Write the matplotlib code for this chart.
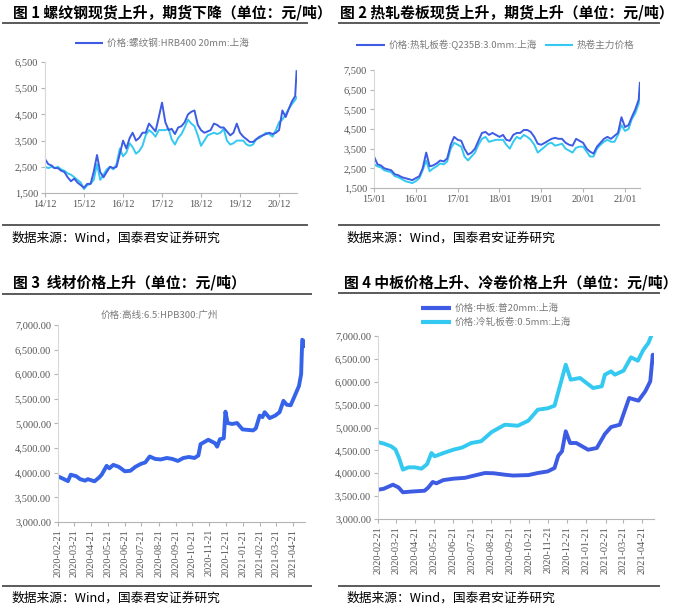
import numpy as np
import pandas as pd
import matplotlib
matplotlib.use('Agg')
import matplotlib.pyplot as plt
import matplotlib.dates as mdates
from matplotlib.lines import Line2D
from matplotlib.ticker import FuncFormatter

# ---------------------------------------------------------------------------
# 数据
# ---------------------------------------------------------------------------
# 图1 螺纹钢：月度，2014-12 ~ 2021-05，外加最后一个点
rebar_spot = [2800,
              2600, 2550, 2450, 2450, 2350, 2300, 2100, 1950, 2050, 1900, 1800, 1700,
              1850, 1850, 2300, 2950, 2300, 2100, 2300, 2500, 2450, 2500, 3000, 3500,
              3200, 3600, 3800, 3500, 3600, 3800, 3800, 4150, 4000, 3850, 4400, 4950,
              4200, 3900, 3950, 3750, 4000, 4050, 4200, 4500, 4600, 4650, 4100, 3900,
              3800, 3850, 3900, 4150, 4100, 4000, 4000, 3850, 3700, 3800, 4150, 3800,
              3650, 3550, 3450, 3450, 3550, 3650, 3700, 3750, 3800, 3750, 3800, 3900,
              4650, 4400, 4700, 5000, 5200, 6150]
rebar_fut = [2500,
             2450, 2500, 2450, 2500, 2400, 2350, 2250, 2200, 2100, 2000, 1900, 1650,
             1800, 1850, 2000, 2600, 2000, 2200, 2400, 2500, 2400, 2600, 3200, 2900,
             3050, 3400, 3250, 3000, 3100, 3300, 3700, 3900, 3800, 3650, 3900, 3900,
             3900, 3950, 3550, 3350, 3600, 3750, 4000, 4300, 4150, 4050, 3700, 3300,
             3500, 3700, 3750, 3800, 3750, 3800, 3950, 3500, 3350, 3400, 3500, 3500,
             3500, 3350, 3300, 3350, 3550, 3600, 3700, 3800, 3750, 3650, 3900, 4200,
             4300, 4500, 4700, 4900, 5050, 5150]
rebar_dates = list(pd.date_range('2014-12-01', '2021-05-01', freq='MS')) + [pd.Timestamp('2021-05-14')]
rebar_ticks = ['2014-12-01', '2015-12-01', '2016-12-01', '2017-12-01',
               '2018-12-01', '2019-12-01', '2020-12-01']
rebar_ticklabels = ['14/12', '15/12', '16/12', '17/12', '18/12', '19/12', '20/12']

# 图2 热轧卷板：月度，2015-01 ~ 2021-05，外加最后一个点
hrc_spot = [3100, 2700, 2650, 2500, 2450, 2400, 2200, 2150, 2050, 2000, 1950, 1900,
            2000, 2100, 2500, 3300, 2600, 2650, 2750, 2900, 2850, 3000, 3700, 4100,
            3950, 3900, 3500, 3200, 3300, 3500, 3900, 4300, 4350, 4200, 4300, 4200,
            4100, 4200, 3950, 3900, 4200, 4300, 4300, 4450, 4450, 4350, 4100, 3750,
            3700, 3800, 3900, 4000, 4050, 4000, 4000, 3800, 3700, 3650, 4000, 3900,
            3800, 3500, 3350, 3250, 3600, 3800, 4000, 4100, 4000, 4150, 4300, 5100,
            4600, 4700, 5100, 5500, 6000, 6850]
hrc_fut = [2700, 2600, 2550, 2400, 2350, 2300, 2100, 2050, 1950, 1850, 1800, 1750,
           1850, 2000, 2400, 2900, 2350, 2500, 2600, 2750, 2700, 2850, 3500, 3800,
           3700, 3600, 3100, 2900, 3100, 3300, 3700, 4000, 4100, 3850, 3900, 3950,
           3950, 3950, 3700, 3500, 3850, 4100, 4000, 4200, 4100, 3950, 3700, 3300,
           3450, 3600, 3750, 3800, 3650, 3700, 3750, 3500, 3400, 3300, 3550, 3600,
           3600, 3350, 3100, 3100, 3500, 3700, 3850, 3950, 3850, 3850, 4200, 4700,
           4400, 4500, 5000, 5300, 5800, 6600]
hrc_dates = list(pd.date_range('2015-01-01', '2021-05-01', freq='MS')) + [pd.Timestamp('2021-05-11')]
hrc_ticks = ['2015-01-01', '2016-01-01', '2017-01-01', '2018-01-01',
             '2019-01-01', '2020-01-01', '2021-01-01']
hrc_ticklabels = ['15/01', '16/01', '17/01', '18/01', '19/01', '20/01', '21/01']

# 图3 线材
wire_dates = ['2020-02-21', '2020-03-01', '2020-03-10', '2020-03-15', '2020-03-25',
              '2020-04-01', '2020-04-10', '2020-04-15', '2020-04-27', '2020-05-05',
              '2020-05-10', '2020-05-19', '2020-05-24', '2020-05-31', '2020-06-10',
              '2020-06-21', '2020-07-01', '2020-07-10', '2020-07-20', '2020-07-28',
              '2020-08-05', '2020-08-15', '2020-08-25', '2020-09-05', '2020-09-15',
              '2020-09-25', '2020-10-05', '2020-10-15', '2020-10-25', '2020-11-01',
              '2020-11-05', '2020-11-19', '2020-12-01', '2020-12-05', '2020-12-10',
              '2020-12-17', '2020-12-20', '2020-12-24', '2021-01-01', '2021-01-10',
              '2021-01-20', '2021-02-08', '2021-02-13', '2021-02-20', '2021-02-25',
              '2021-03-01', '2021-03-10', '2021-03-20', '2021-03-28', '2021-04-04',
              '2021-04-10', '2021-04-17', '2021-04-24', '2021-05-02', '2021-05-06',
              '2021-05-08', '2021-05-10', '2021-05-11']
wire_price = [3925, 3880, 3830, 3960, 3930,
              3870, 3840, 3870, 3826, 3900,
              3960, 4140, 4090, 4160, 4120,
              4030, 4040, 4120, 4180, 4210,
              4330, 4280, 4270, 4300, 4280,
              4240, 4300, 4320, 4300, 4350,
              4580, 4670, 4600, 4530, 4680,
              4700, 5240, 5010, 4990, 5010,
              4880, 4860, 4900, 5160, 5130,
              5230, 5110, 5160, 5230, 5460,
              5380, 5370, 5550, 5760, 6000,
              6700, 6680, 6570]

# 图4 中板 / 冷轧
plate_dates = ['2020-02-21', '2020-03-01', '2020-03-16', '2020-03-25', '2020-04-01',
               '2020-04-15', '2020-05-06', '2020-05-12', '2020-05-19', '2020-05-25',
               '2020-06-05', '2020-06-21', '2020-07-10', '2020-07-25', '2020-08-11',
               '2020-08-25', '2020-09-12', '2020-09-25', '2020-10-20', '2020-11-04',
               '2020-11-20', '2020-12-01', '2020-12-07', '2020-12-13', '2020-12-19',
               '2020-12-26', '2021-01-05', '2021-01-24', '2021-02-07', '2021-02-20',
               '2021-03-02', '2021-03-16', '2021-03-31', '2021-04-15', '2021-04-26',
               '2021-05-04', '2021-05-08', '2021-05-09']
plate_price = [3640, 3660, 3750, 3690, 3584, 3600, 3618, 3690, 3809, 3780,
               3850, 3881, 3900, 3950, 4005, 4000, 3968, 3950, 3960, 4005,
               4040, 4115, 4383, 4480, 4917, 4661, 4661, 4514, 4552, 4858,
               5011, 5061, 5645, 5586, 5792, 6010, 6591, 6447]
cold_dates = ['2020-02-21', '2020-03-01', '2020-03-13', '2020-03-20', '2020-03-26',
              '2020-04-01', '2020-04-10', '2020-04-20', '2020-05-01', '2020-05-10',
              '2020-05-17', '2020-05-22', '2020-06-05', '2020-06-21', '2020-07-05',
              '2020-07-20', '2020-08-05', '2020-08-22', '2020-09-12', '2020-10-03',
              '2020-10-20', '2020-11-04', '2020-11-20', '2020-12-01', '2020-12-08',
              '2020-12-19', '2020-12-27', '2021-01-11', '2021-02-01', '2021-02-15',
              '2021-02-20', '2021-03-02', '2021-03-08', '2021-03-22', '2021-04-03',
              '2021-04-14', '2021-04-23', '2021-05-01', '2021-05-05']
cold_price = [4680, 4650, 4590, 4520, 4330, 4080, 4130, 4130, 4100, 4200,
              4443, 4370, 4440, 4514, 4560, 4661, 4700, 4902, 5061, 5039,
              5150, 5389, 5420, 5476, 5826, 6373, 6045, 6082, 5863, 5900,
              6154, 6228, 6154, 6242, 6534, 6460, 6701, 6847, 6985]

month_ticks = ['2020-02-21', '2020-03-21', '2020-04-21', '2020-05-21', '2020-06-21',
               '2020-07-21', '2020-08-21', '2020-09-21', '2020-10-21', '2020-11-21',
               '2020-12-21', '2021-01-21', '2021-02-21', '2021-03-21', '2021-04-21']

titles = ['图 1 螺纹钢现货上升，期货下降（单位：元/吨）',
          '图 2 热轧卷板现货上升，期货上升（单位：元/吨）',
          '图 3  线材价格上升（单位：元/吨）',
          '图 4 中板价格上升、冷卷价格上升（单位：元/吨）']
source = '数据来源：Wind，国泰君安证券研究'

# ---------------------------------------------------------------------------
# 样式
# ---------------------------------------------------------------------------
W, H = 678, 614
CJK = ['Noto Sans CJK SC', 'DejaVu Sans']
plt.rcParams['font.family'] = ['Liberation Serif', 'DejaVu Serif']
DARK = '#3d5ce3'
CYAN = '#34c9f0'
GRAY_TXT = '#7a7a7a'


def fx(x):
    return x / W


def fy(y):
    return 1 - y / H


def add_ax(fig, x0, y0, x1, y1):
    return fig.add_axes([fx(x0), fy(y1), fx(x1) - fx(x0), fy(y0) - fy(y1)])


def hline(fig, x0, x1, y):
    fig.add_artist(Line2D([fx(x0), fx(x1)], [fy(y), fy(y)], color='#5a5a5a', lw=1.4))


def legend_item(fig, x0, x1, y, color, lw, label):
    fig.add_artist(Line2D([fx(x0), fx(x1)], [fy(y), fy(y)], color=color, lw=lw,
                          solid_capstyle='butt'))
    fig.text(fx(x1 + 4), fy(y), label, fontsize=6.9, color=GRAY_TXT,
             va='center', ha='left', family=CJK)


def style(ax):
    for s in ['top', 'right']:
        ax.spines[s].set_visible(False)
    ax.spines['left'].set_color('#d8d8d8')
    ax.spines['bottom'].set_color('#b5b5b5')
    ax.tick_params(axis='both', colors='#b5b5b5', labelcolor='#555555',
                   length=3, width=0.8, labelsize=7.5, pad=2)


fig = plt.figure(figsize=(W / 100, H / 100), dpi=100)

# 标题、分隔线、来源
for (tx, ty), t in zip([(13, 12), (340, 12), (13, 283), (344, 283)], titles):
    fig.text(fx(tx), fy(ty), t, fontsize=10.7, fontweight='bold', va='center',
             ha='left', family=CJK)
for x0, x1, y in [(3, 307, 23), (339, 659, 23), (3, 311, 294), (339, 659, 293)]:
    hline(fig, x0, x1, y)
for x0, x1, y in [(3, 307, 225), (339, 659, 225), (3, 311, 586), (339, 659, 586)]:
    hline(fig, x0, x1, y)
for sx, sy in [(12, 238), (347, 238), (12, 598), (347, 598)]:
    fig.text(fx(sx), fy(sy), source, fontsize=9.2, va='center', ha='left', family=CJK)

# 图1
ax1 = add_ax(fig, 45, 62, 297, 193)
ax1.plot(rebar_dates, rebar_fut, color=CYAN, lw=1.4)
ax1.plot(rebar_dates, rebar_spot, color=DARK, lw=1.4)
ax1.set_ylim(1500, 6500)
ax1.set_yticks(range(1500, 6501, 1000))
ax1.set_xlim(pd.Timestamp('2014-12-01'), pd.Timestamp('2021-05-18'))
ax1.set_xticks(pd.to_datetime(rebar_ticks))
ax1.set_xticklabels(rebar_ticklabels)
ax1.yaxis.set_major_formatter(FuncFormatter(lambda v, p: f'{v:,.0f}'))
style(ax1)
legend_item(fig, 75, 103, 43, DARK, 1.5, '价格:螺纹钢:HRB400 20mm:上海')

# 图2
ax2 = add_ax(fig, 374, 70, 640, 188)
ax2.plot(hrc_dates, hrc_fut, color=CYAN, lw=1.4)
ax2.plot(hrc_dates, hrc_spot, color=DARK, lw=1.4)
ax2.set_ylim(1500, 7500)
ax2.set_yticks(range(1500, 7501, 1000))
ax2.set_xlim(pd.Timestamp('2015-01-01'), pd.Timestamp('2021-05-12'))
ax2.set_xticks(pd.to_datetime(hrc_ticks))
ax2.set_xticklabels(hrc_ticklabels)
ax2.yaxis.set_major_formatter(FuncFormatter(lambda v, p: f'{v:,.0f}'))
style(ax2)
legend_item(fig, 356, 385, 45, DARK, 1.5, '价格:热轧板卷:Q235B:3.0mm:上海')
legend_item(fig, 545, 573, 45, CYAN, 1.5, '热卷主力价格')

# 图3
ax3 = add_ax(fig, 58, 325, 305, 522)
ax3.plot(pd.to_datetime(wire_dates), wire_price, color='#3563e9', lw=2.8)
ax3.set_ylim(3000, 7000)
ax3.set_yticks(range(3000, 7001, 500))
ax3.set_xlim(pd.Timestamp('2020-02-21'), pd.Timestamp('2021-05-13'))
ax3.set_xticks(pd.to_datetime(month_ticks))
ax3.xaxis.set_major_formatter(mdates.DateFormatter('%Y-%m-%d'))
ax3.yaxis.set_major_formatter(FuncFormatter(lambda v, p: f'{v:,.2f}'))
style(ax3)
ax3.tick_params(axis='x', labelrotation=90, labelsize=7.4)
fig.text(fx(159), fy(315), '价格:高线:6.5:HPB300:广州', fontsize=6.9, color=GRAY_TXT,
         ha='center', va='center', family=CJK)

# 图4
ax4 = add_ax(fig, 378, 336, 654, 519)
ax4.plot(pd.to_datetime(cold_dates), cold_price, color=CYAN, lw=2.8)
ax4.plot(pd.to_datetime(plate_dates), plate_price, color=DARK, lw=2.8)
ax4.set_ylim(3000, 7000)
ax4.set_yticks(range(3000, 7001, 500))
ax4.set_xlim(pd.Timestamp('2020-02-21'), pd.Timestamp('2021-05-10'))
ax4.set_xticks(pd.to_datetime(month_ticks))
ax4.xaxis.set_major_formatter(mdates.DateFormatter('%Y-%m-%d'))
ax4.yaxis.set_major_formatter(FuncFormatter(lambda v, p: f'{v:,.2f}'))
style(ax4)
ax4.tick_params(axis='x', labelrotation=90, labelsize=7.4)
legend_item(fig, 421, 451, 308, DARK, 3, '价格:中板:普20mm:上海')
legend_item(fig, 421, 451, 322, CYAN, 3, '价格:冷轧板卷:0.5mm:上海')

fig.savefig('out.png', dpi=100)
